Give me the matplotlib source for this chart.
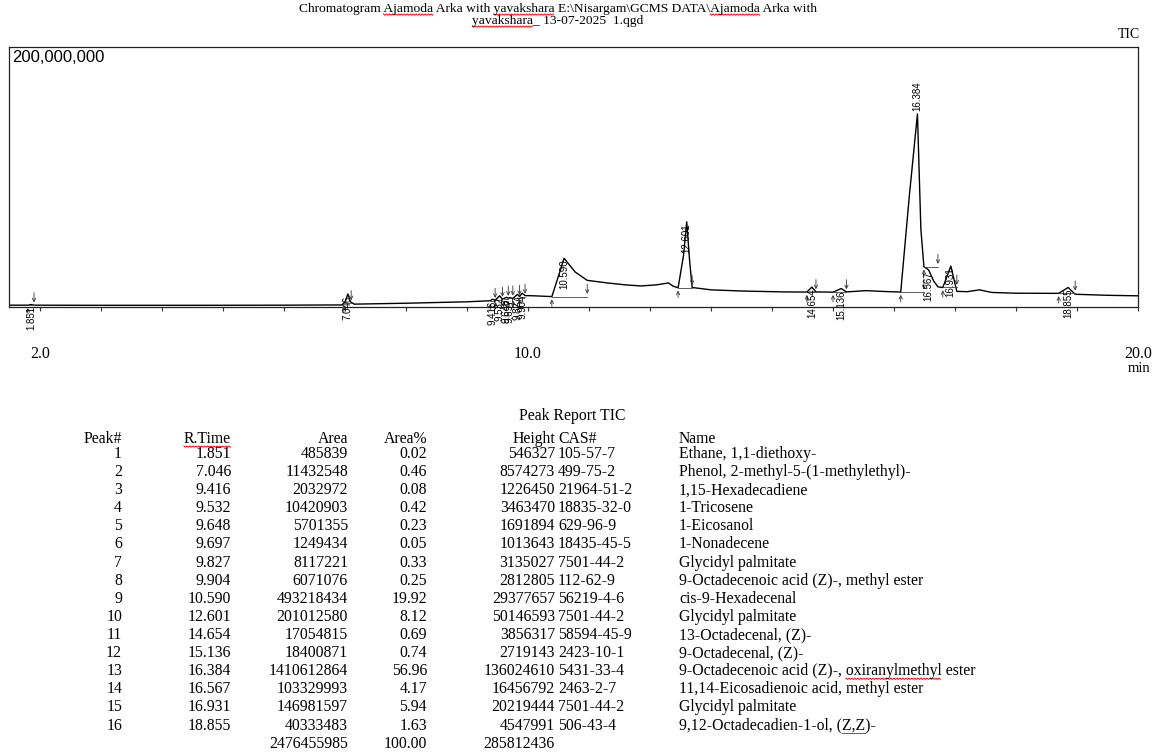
import matplotlib
matplotlib.use('Agg')
import matplotlib.pyplot as plt
import numpy as np

# ---- peak report data ----
peak_no = list(range(1, 17))
r_time = [1.851, 7.046, 9.416, 9.532, 9.648, 9.697, 9.827, 9.904,
          10.590, 12.601, 14.654, 15.136, 16.384, 16.567, 16.931, 18.855]
area = [485839, 11432548, 2032972, 10420903, 5701355, 1249434, 8117221, 6071076,
        493218434, 201012580, 17054815, 18400871, 1410612864, 103329993, 146981597, 40333483]
area_pct = [0.02, 0.46, 0.08, 0.42, 0.23, 0.05, 0.33, 0.25,
            19.92, 8.12, 0.69, 0.74, 56.96, 4.17, 5.94, 1.63]
height = [546327, 8574273, 1226450, 3463470, 1691894, 1013643, 3135027, 2812805,
          29377657, 50146593, 3856317, 2719143, 136024610, 16456792, 20219444, 4547991]
cas_no = ['105-57-7', '499-75-2', '21964-51-2', '18835-32-0', '629-96-9', '18435-45-5',
          '7501-44-2', '112-62-9', '56219-4-6', '7501-44-2', '58594-45-9', '2423-10-1',
          '5431-33-4', '2463-2-7', '7501-44-2', '506-43-4']
names = ['Ethane, 1,1-diethoxy-',
         'Phenol, 2-methyl-5-(1-methylethyl)-',
         '1,15-Hexadecadiene',
         '1-Tricosene',
         '1-Eicosanol',
         '1-Nonadecene',
         'Glycidyl palmitate',
         '9-Octadecenoic acid (Z)-, methyl ester',
         'cis-9-Hexadecenal',
         'Glycidyl palmitate',
         '13-Octadecenal, (Z)-',
         '9-Octadecenal, (Z)-',
         '9-Octadecenoic acid (Z)-, oxiranylmethyl ester',
         '11,14-Eicosadienoic acid, methyl ester',
         'Glycidyl palmitate',
         '9,12-Octadecadien-1-ol, (Z,Z)-']
total_area = 2476455985
total_pct = 100.00
total_height = 285812436

# integration start / end (min), read from the arrows
pk_start = [1.80, 6.98, 9.38, 9.47, 9.60, 9.675, 9.76, 9.86,
            10.39, 12.46, 14.57, 15.00, 16.11, 16.49, 16.80, 18.70]
pk_end = [1.90, 7.10, 9.46, 9.58, 9.675, 9.75, 9.86, 9.95,
          10.97, 12.69, 14.72, 15.22, 16.49, 16.72, 17.03, 18.97]

# ---- TIC trace (time min, intensity in millions) ----
trace_t = [1.49, 1.80, 1.851, 1.90, 3.0, 4.5, 6.0, 6.95, 7.00, 7.046, 7.09, 7.15,
           8.0, 9.0, 9.38, 9.416, 9.46, 9.532, 9.58, 9.648, 9.675, 9.697, 9.75,
           9.827, 9.86, 9.904, 9.95, 10.1, 10.39, 10.50, 10.59, 10.65, 10.77, 10.97,
           11.3, 11.6, 11.85, 12.1, 12.3, 12.38, 12.46, 12.55, 12.601, 12.65, 12.69,
           13.0, 13.5, 14.2, 14.57, 14.654, 14.72, 15.0, 15.136, 15.22, 15.55, 15.8,
           16.11, 16.25, 16.384, 16.44, 16.49, 16.567, 16.65, 16.72, 16.80, 16.931,
           17.03, 17.2, 17.4, 17.6, 18.0, 18.70, 18.855, 18.97, 19.5, 20.0]
trace_m = [1.4, 1.4, 1.9, 1.4, 1.3, 1.3, 1.4, 1.6, 4.0, 10.0, 4.0, 2.2,
           2.9, 4.0, 4.8, 6.0, 5.2, 8.6, 6.0, 7.5, 6.6, 7.3, 6.6,
           9.7, 8.0, 10.6, 8.8, 8.6, 8.0, 24.0, 37.5, 34.0, 27.0, 20.5,
           18.5, 17.0, 16.2, 17.0, 18.5, 16.0, 14.8, 40.0, 65.5, 35.0, 15.0,
           13.2, 12.3, 11.6, 11.5, 15.3, 11.6, 11.4, 14.2, 11.6, 12.6, 12.0,
           11.5, 85.0, 148.5, 60.0, 31.0, 28.5, 20.0, 15.5, 15.0, 31.5,
           12.0, 11.8, 13.2, 11.2, 10.6, 10.5, 15.0, 9.8, 9.0, 8.6]
trace_v = np.array(trace_m) * 1e6

W, H = 1153, 755
def fx(x):
    return x / W
def fy(y):
    return 1 - y / H

serif = 'Liberation Serif'
sans = 'Liberation Sans'

fig = plt.figure(figsize=(W / 100, H / 100), dpi=100)
ax = fig.add_axes([fx(9), fy(307), fx(1138) - fx(9), fy(47) - fy(307)])

ax.plot(trace_t, trace_v, color='black', lw=1.0)
ax.set_xlim(1.49, 20.0)
ax.set_ylim(0, 200e6)

# peak start/end arrows and baselines
for s, e in zip(pk_start, pk_end):
    base = np.interp(s, trace_t, trace_v)
    ax.plot([s, e], [base, base], color='#444444', lw=0.6)
    ax.annotate('', xy=(s, base), xytext=(0, -9), textcoords='offset points',
                arrowprops=dict(arrowstyle='->', lw=0.6, color='#333333', mutation_scale=6),
                annotation_clip=False)
    ax.annotate('', xy=(e, base), xytext=(0, 11), textcoords='offset points',
                arrowprops=dict(arrowstyle='->', lw=0.6, color='#333333', mutation_scale=6),
                annotation_clip=False)

# retention time labels
for i, rt in enumerate(r_time):
    apex = np.interp(rt, trace_t, trace_v)
    if i == 12:
        ax.annotate('%.3f' % rt, xy=(rt, apex), xytext=(0, 2), textcoords='offset points',
                    rotation=90, ha='center', va='bottom', fontsize=7, family=sans)
    else:
        ax.annotate('%.3f' % rt, xy=(rt, apex), xytext=(0, -1), textcoords='offset points',
                    rotation=90, ha='center', va='top', fontsize=7, family=sans,
                    annotation_clip=False)

ax.set_xticks([2.0, 10.0, 20.0])
ax.set_xticklabels(['2.0', '10.0', '20.0'], family=serif, fontsize=11.5)
ax.set_xticks(np.arange(2, 21, 1.0), minor=True)
ax.tick_params(axis='x', which='both', direction='out', length=3, width=0.8, pad=25, colors='#333333')
ax.tick_params(axis='x', which='major', labelcolor='black')
ax.set_yticks([])
for sp in ax.spines.values():
    sp.set_linewidth(0.9)
    sp.set_color('#222222')

ax.text(0.003, 0.988, '200,000,000', transform=ax.transAxes, ha='left', va='top',
        fontsize=12, family=sans)

fig.text(fx(1139), fy(369), 'min', ha='center', va='center', fontsize=10.5, family=serif)

# header
t1 = fig.text(fx(558), fy(9), 'Chromatogram Ajamoda Arka with yavakshara E:\\Nisargam\\GCMS DATA\\Ajamoda Arka with',
              ha='center', va='center', fontsize=9.7, family=serif)
t2 = fig.text(fx(558), fy(21), 'yavakshara_ 13-07-2025  1.qgd',
              ha='center', va='center', fontsize=9.7, family=serif)
fig.text(fx(1140), fy(34), 'TIC', ha='right', va='center', fontsize=10, family=serif)

# ---- peak report table ----
fs = 11.3
fig.text(fx(572), fy(416), 'Peak Report TIC', ha='center', va='center', fontsize=fs, family=serif)
head_y = 439
row0 = 454
row_h = 18.1
cols = [(122, 'right', 'Peak#'), (231, 'right', 'R.Time'), (348, 'right', 'Area'),
        (427, 'right', 'Area%'), (555, 'right', 'Height'), (558, 'left', 'CAS#'),
        (679, 'left', 'Name')]
head_txt = {}
for x, ha, lab in cols:
    head_txt[lab] = fig.text(fx(x), fy(head_y), lab, ha=ha, va='center', fontsize=fs, family=serif)

name_txt = []
for i in range(len(peak_no)):
    y = fy(row0 + i * row_h)
    vals = [str(peak_no[i]), '%.3f' % r_time[i], str(area[i]), '%.2f' % area_pct[i],
            str(height[i]), cas_no[i], names[i]]
    for (x, ha, _), v in zip(cols, vals):
        t = fig.text(fx(x), y, v, ha=ha, va='center', fontsize=fs, family=serif)
    name_txt.append(t)

y = fy(row0 + 16 * row_h)
fig.text(fx(348), y, str(total_area), ha='right', va='center', fontsize=fs, family=serif)
fig.text(fx(427), y, '%.2f' % total_pct, ha='right', va='center', fontsize=fs, family=serif)
fig.text(fx(555), y, str(total_height), ha='right', va='center', fontsize=fs, family=serif)

# spell-check underlines as in the source document
renderer = fig.canvas.get_renderer()
def text_width(s, t):
    tmp = fig.text(0, 0, s, fontsize=t.get_fontsize(), family=t.get_fontfamily())
    w = tmp.get_window_extent(renderer).width
    tmp.remove()
    return w

def underline(t, word, nth=0, color='red', wavy=True):
    s = t.get_text()
    idx = -1
    for _ in range(nth + 1):
        idx = s.index(word, idx + 1)
    bb = t.get_window_extent(renderer)
    x1 = bb.x0 + text_width(s[:idx + len(word)], t)
    x0 = x1 - text_width(word, t)
    ybase = bb.y0 + 1
    if wavy:
        xs = np.arange(x0, x1 + 0.1, 1.5)
        ys = ybase - 1.2 * (np.arange(len(xs)) % 2)
    else:
        xs = np.array([x0, x1])
        ys = np.array([ybase, ybase])
    fig.add_artist(plt.Line2D(xs / W, ys / H, color=color, lw=0.7, transform=fig.transFigure))

underline(t1, 'Ajamoda', 0)
underline(t1, 'yavakshara', 0)
underline(t1, 'Ajamoda', 1)
underline(t2, 'yavakshara', 0)
underline(head_txt['R.Time'], 'R.Time', 0)
underline(name_txt[12], 'oxiranylmethyl', 0)
underline(name_txt[15], 'Z,Z', 0, color='#3060d0', wavy=False)

fig.savefig('out.png', dpi=100)
